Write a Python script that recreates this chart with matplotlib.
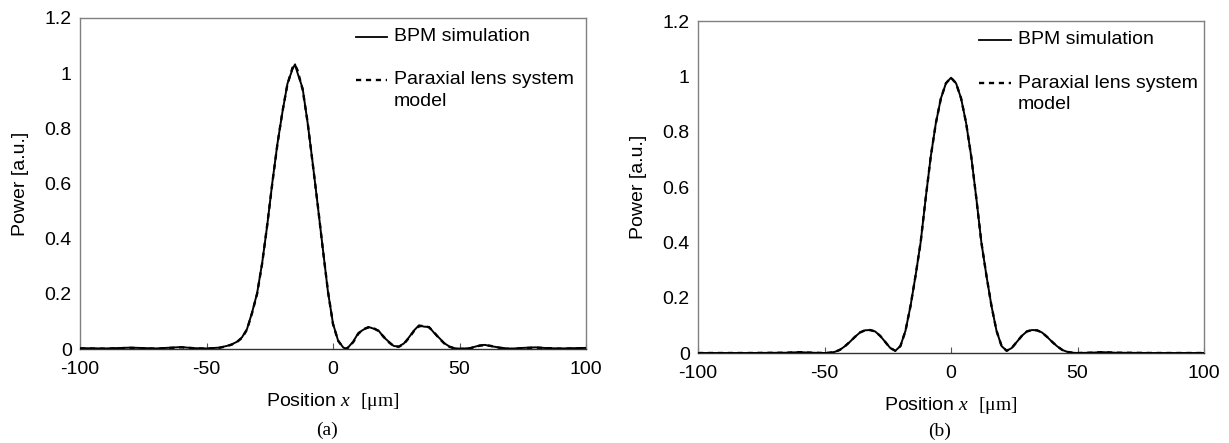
import matplotlib
matplotlib.use("Agg")
import matplotlib.pyplot as plt
import numpy as np

plt.rcParams['font.family'] = ['Liberation Sans', 'DejaVu Sans']
plt.rcParams['mathtext.fontset'] = 'custom'
plt.rcParams['mathtext.rm'] = 'Liberation Serif'
plt.rcParams['mathtext.it'] = 'Liberation Serif:italic'

# ---------------- data ----------------
# Panel (a): shifted focus
xa = [-100, -90, -80, -70, -60, -55, -50, -45, -42, -40, -38, -36, -34, -32, -30,
      -28, -26, -24, -22, -20, -18, -16, -15, -14, -12, -10, -8, -6, -4, -2,
      0, 2, 4, 5, 6, 8, 10, 12, 14, 16, 18, 20, 22, 24, 26, 28, 30, 32, 34,
      36, 38, 40, 42, 44, 46, 48, 50, 54, 58, 60, 62, 66, 70, 75, 80, 85, 90,
      95, 100]
model_a = [0.002, 0.001, 0.004, 0.001, 0.006, 0.003, 0.001, 0.004, 0.010, 0.016,
           0.025, 0.040, 0.070, 0.130, 0.200, 0.310, 0.450, 0.600, 0.740, 0.860,
           0.960, 1.020, 1.030, 1.010, 0.940, 0.820, 0.670, 0.520, 0.360, 0.210,
           0.090, 0.030, 0.005, 0.000, 0.005, 0.025, 0.055, 0.072, 0.078, 0.076,
           0.065, 0.045, 0.025, 0.010, 0.008, 0.018, 0.040, 0.065, 0.082, 0.085,
           0.078, 0.060, 0.038, 0.020, 0.008, 0.002, 0.000, 0.002, 0.012, 0.014,
           0.012, 0.004, 0.000, 0.003, 0.005, 0.003, 0.001, 0.002, 0.003]
bpm_a = [0.003, 0.002, 0.005, 0.002, 0.007, 0.003, 0.002, 0.005, 0.011, 0.017,
         0.026, 0.042, 0.072, 0.132, 0.202, 0.312, 0.448, 0.602, 0.742, 0.858,
         0.962, 1.015, 1.032, 1.000, 0.945, 0.818, 0.672, 0.518, 0.362, 0.208,
         0.092, 0.031, 0.006, 0.001, 0.006, 0.027, 0.058, 0.070, 0.080, 0.074,
         0.067, 0.043, 0.027, 0.011, 0.009, 0.020, 0.042, 0.067, 0.086, 0.081,
         0.080, 0.058, 0.040, 0.021, 0.009, 0.003, 0.001, 0.003, 0.013, 0.015,
         0.011, 0.005, 0.001, 0.004, 0.006, 0.003, 0.002, 0.003, 0.004]

# Panel (b): centred focus
xb = [-100, -80, -65, -60, -55, -50, -48, -46, -44, -42, -40, -38, -36, -34, -32,
      -30, -28, -26, -24, -22, -20, -18, -16, -14, -12, -10, -8, -6, -4, -2,
      0, 2, 4, 6, 8, 10, 12, 14, 16, 18, 20, 22, 24, 26, 28, 30, 32, 34, 36,
      38, 40, 42, 44, 46, 48, 50, 55, 60, 65, 80, 100]
model_b = [0.000, 0.000, 0.001, 0.003, 0.001, 0.000, 0.001, 0.004, 0.011, 0.024,
           0.040, 0.058, 0.074, 0.082, 0.083, 0.078, 0.062, 0.040, 0.018, 0.008,
           0.025, 0.080, 0.170, 0.280, 0.400, 0.560, 0.710, 0.830, 0.920, 0.975,
           0.995, 0.975, 0.920, 0.830, 0.710, 0.560, 0.400, 0.280, 0.170, 0.080,
           0.025, 0.008, 0.018, 0.040, 0.062, 0.078, 0.083, 0.082, 0.074, 0.058,
           0.040, 0.024, 0.011, 0.004, 0.001, 0.000, 0.001, 0.003, 0.001, 0.000,
           0.000]
bpm_b = model_b

xticks = [-100, -50, 0, 50, 100]
yticks = [0, 0.2, 0.4, 0.6, 0.8, 1.0, 1.2]
yticklabels = ['0', '0.2', '0.4', '0.6', '0.8', '1', '1.2']
leg_labels = ['BPM simulation', 'Paraxial lens system', 'model']
panel_tags = ['(a)', '(b)']

# ---------------- figure ----------------
W, H = 1229, 443
fig = plt.figure(figsize=(W / 100, H / 100), dpi=100)

axes_px = [(80, 18, 586, 349), (698, 21, 1204, 353)]
data = [(xa, bpm_a, model_a), (xb, bpm_b, model_b)]
tag_pos = [(327, 430), (940, 431)]
leg_x = [(0.546, 0.606, 0.620), (0.556, 0.618, 0.632)]

FS = 14
for i, ((l, t, r, b), (x, bpm, mod)) in enumerate(zip(axes_px, data)):
    ax = fig.add_axes([l / W, 1 - b / H, (r - l) / W, (b - t) / H])
    ax.plot(x, mod, color='black', lw=1.7, ls=(0, (2.2, 2.0)), zorder=2)
    ax.plot(x, bpm, color='black', lw=1.4, zorder=3)
    ax.set_xlim(-100, 100)
    ax.set_ylim(0, 1.2)
    ax.set_xticks(xticks)
    ax.set_xticklabels([str(v) for v in xticks])
    ax.set_yticks(yticks)
    ax.set_yticklabels(yticklabels)
    ax.tick_params(axis='x', direction='in', length=4, width=0.8, color='#555555',
                   labelsize=FS, pad=9)
    ax.tick_params(axis='y', length=0, labelsize=FS, pad=6)
    for s in ax.spines.values():
        s.set_color('#808080')
        s.set_linewidth(1.0)
    ax.spines['bottom'].set_color('#333333')
    ax.set_ylabel('Power [a.u.]', fontsize=FS, labelpad=11)
    ax.set_xlabel(r'Position $\mathit{x}$  $\mathrm{[μm]}$', fontsize=FS, labelpad=9)

    # legend drawn inside the axes
    tr = ax.transAxes
    x0, x1, xt = leg_x[i]
    ax.plot([x0, x1], [0.943, 0.943], transform=tr, color='black', lw=1.3)
    ax.plot([x0, x1], [0.813, 0.813], transform=tr, color='black', lw=1.7,
            ls=(0, (2.2, 2.0)))
    ax.text(xt, 0.943, leg_labels[0], transform=tr, fontsize=FS, va='center', ha='left')
    ax.text(xt, 0.813, leg_labels[1], transform=tr, fontsize=FS, va='center', ha='left')
    ax.text(xt, 0.749, leg_labels[2], transform=tr, fontsize=FS, va='center', ha='left')

    fig.text(tag_pos[i][0] / W, 1 - tag_pos[i][1] / H, panel_tags[i],
             family='Liberation Serif', fontsize=FS, ha='center', va='center')

fig.savefig('out.png', dpi=100)
